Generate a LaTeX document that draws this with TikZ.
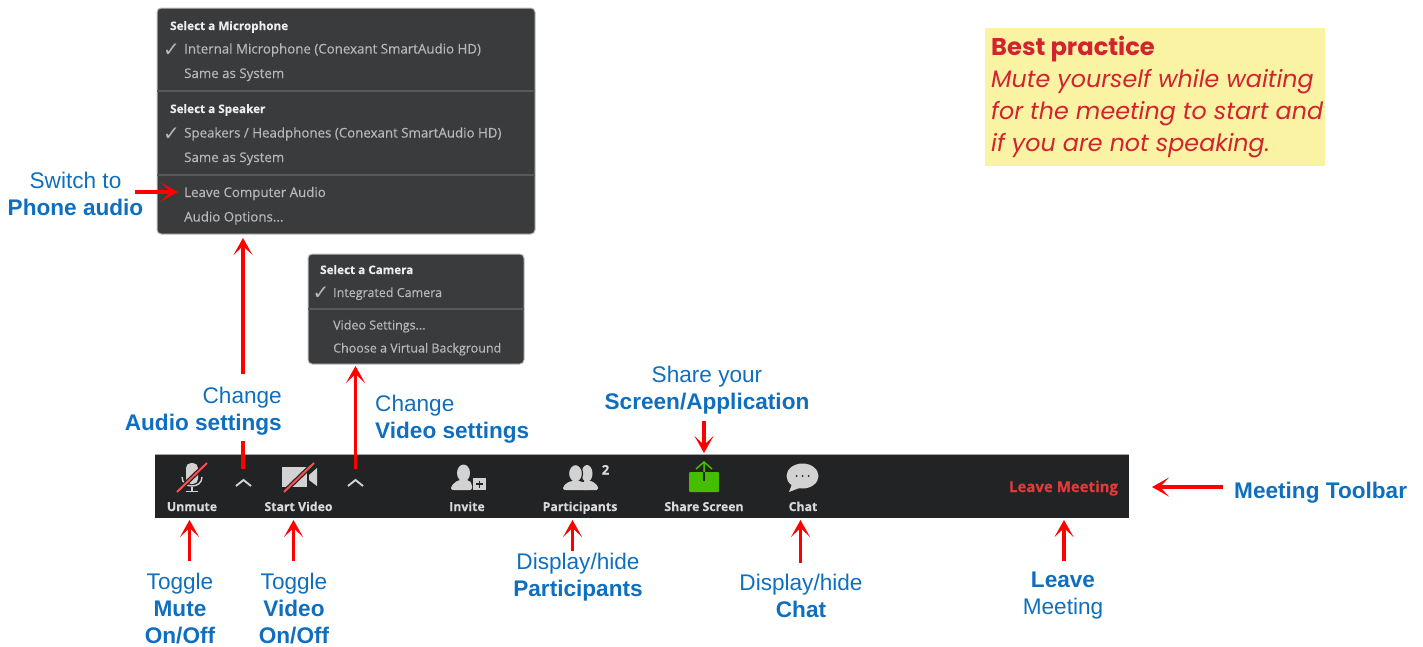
\documentclass[tikz,border=0pt]{standalone}
\usepackage{fontspec}
\usetikzlibrary{arrows.meta}
\setmainfont{Liberation Sans}
\newfontfamily\uifont[FakeBold=0.25]{Open Sans}
\newfontfamily\bpfont{Poppins}
\newfontfamily\chkfont{DejaVu Sans}
\definecolor{cblue}{HTML}{0F6FBE}
\definecolor{cred}{HTML}{FF0000}
\definecolor{menubg}{HTML}{3A3B3D}
\definecolor{menuline}{HTML}{57585A}
\definecolor{barbg}{HTML}{222325}
\definecolor{icon}{HTML}{D2D2D2}
\definecolor{bpbg}{HTML}{FAF3A4}
\definecolor{bpred}{HTML}{D2232E}
\definecolor{sharegreen}{HTML}{46BE00}
\definecolor{leavered}{HTML}{E23B3B}
\tikzset{
  x=1pt,y=-1pt,
  arr/.style={draw=cred,line width=3.4pt,-{Stealth[length=17pt,width=19pt,inset=9pt]}},
  plain/.style={draw=cred,line width=3.4pt},
  lab/.style={text=cblue,font=\fontsize{22.6}{27}\selectfont,align=center,inner sep=0pt},
  labl/.style={text=cblue,font=\fontsize{22.6}{27}\selectfont,align=left,inner sep=0pt},
  labr/.style={text=cblue,font=\fontsize{22.6}{27}\selectfont,align=right,inner sep=0pt},
  menu/.style={draw=black!25,line width=1pt,fill=menubg,rounded corners=4pt},
  mhead/.style={anchor=base west,inner sep=0pt,text=white!93!black,font=\uifont\bfseries\fontsize{11.7}{13}\selectfont},
  mitem/.style={anchor=base west,inner sep=0pt,text=white!72!black,font=\uifont\fontsize{13.3}{15}\selectfont},
  mitemb/.style={anchor=base west,inner sep=0pt,text=white!72!black,font=\uifont\fontsize{12.5}{15}\selectfont},
  mchk/.style={anchor=base west,inner sep=0pt,text=white!72!black,font=\chkfont\fontsize{20}{20}\selectfont},
  tb/.style={anchor=base,inner sep=0pt,text=white!85!black,font=\uifont\bfseries\fontsize{12.3}{14}\selectfont},
  bp/.style={anchor=base west,inner sep=0pt,text=bpred},
  slash/.style={draw=barbg,line width=4.5pt},
  slashr/.style={draw=red!70!white,line width=2pt},
  chev/.style={draw=icon,line width=1.9pt},
}
\begin{document}
\begin{tikzpicture}
\useasboundingbox (0,0) rectangle (1423,646);
% menus
\draw[menu] (157,8) rectangle (535,234);
\coordinate (m1bot) at (243,238);
\coordinate (m1left) at (178,192);
\draw[draw=menuline,line width=1.2pt] (157,91) -- (535,91) (157,175) -- (535,175);
\node[mhead] (m1a) at (170,30) {Select a Microphone};
\node[mchk] (m1ck1) at (163,56) {✓};
\node[mitem] (m1b) at (184,53.5) {Internal Microphone (Conexant SmartAudio HD)};
\node[mitem] (m1c) at (184,78) {Same as System};
\node[mhead] (m1d) at (170,113) {Select a Speaker};
\node[mchk] (m1ck2) at (163,140) {✓};
\node[mitem] (m1e) at (184,137.5) {Speakers / Headphones (Conexant SmartAudio HD)};
\node[mitem] (m1f) at (184,162) {Same as System};
\node[mitem] (m1g) at (184,197) {Leave Computer Audio};
\node[mitem] (m1h) at (184,221.5) {Audio Options...};
\draw[menu] (308,254) rectangle (524,364);
\draw[draw=menuline,line width=1.2pt] (308,309) -- (524,309);
\node[mhead] (m2a) at (320,274) {Select a Camera};
\node[mchk] (m2ck) at (312.5,299.5) {✓};
\node[mitemb] (m2b) at (333,297) {Integrated Camera};
\node[mitemb] (m2c) at (333,329.5) {Video Settings...};
\node[mitemb] (m2d) at (333,352.5) {Choose a Virtual Background};
% best practice
\fill[bpbg] (985,28) rectangle (1325,166);
\node[bp,font=\bpfont\bfseries\fontsize{24.2}{30}\selectfont] (bp1) at (991,55) {Best practice};
\node[bp,font=\bpfont\itshape\fontsize{23.8}{30}\selectfont] (bp2) at (991,87) {Mute yourself while waiting};
\node[bp,font=\bpfont\itshape\fontsize{23.8}{30}\selectfont] (bp3) at (991,119) {for the meeting to start and};
\node[bp,font=\bpfont\itshape\fontsize{23.8}{30}\selectfont] (bp4) at (991,151) {if you are not speaking.};
% toolbar
\fill[barbg] (155,454) rectangle (1129,518);
\draw[black!35,line width=.8pt] (155,454) -- (1129,454);
% mic
\fill[icon,rounded corners=5pt] (186,463) rectangle (198,484);
\draw[icon,line width=1.4pt] (182,477) .. controls (182,489) and (202,489) .. (202,477);
\draw[icon,line width=1.8pt] (192,487) -- (192,491) (186,491.5) -- (198,491.5);
\draw[slash] (177,492) -- (207,463);
\draw[slashr] (177,492) -- (207,463);
% chevrons
\draw[chev] (236,486) -- (243.5,480) -- (251,486);
\draw[chev] (348,486) -- (355.5,480) -- (363,486);
% camera
\fill[icon] (282,467) rectangle (307,487);
\fill[icon] (309,475) -- (317,468) -- (317,486) -- (309,480) -- cycle;
\draw[slash] (284,492) -- (314,463);
\draw[slashr] (284,492) -- (314,463);
% invite
\fill[icon] (463.5,473) circle[x radius=6.5,y radius=8.5];
\fill[icon,rounded corners=2pt] (451,490) -- (451,486) -- (458,480) -- (469,480) -- (472,484) -- (472,490) -- cycle;
\fill[icon] (473,478) rectangle (486,490);
\draw[barbg,line width=1.5pt] (479.5,480.5) -- (479.5,487.5) (476,484) -- (483,484);
% participants
\fill[icon] (587,473.5) circle[x radius=5.5,y radius=8.5];
\fill[icon,rounded corners=1.5pt] (583,490) -- (583,481) -- (592,481) -- (598,486) -- (598,490) -- cycle;
\draw[barbg,line width=1.2pt,fill=icon] (575.5,473.5) circle[x radius=7,y radius=9];
\fill[icon,rounded corners=2pt] (563,490) -- (563,486) -- (570,481) -- (581,481) -- (589,486) -- (589,490) -- cycle;
\node[anchor=base,inner sep=0pt,text=white!85!black,font=\uifont\bfseries\fontsize{13}{14}\selectfont] (partn) at (605.5,474.5) {2};
% share
\fill[sharegreen,rounded corners=1pt] (689,472) rectangle (719,492);
\draw[barbg,line width=1.2pt] (704,472) -- (704,481);
\draw[sharegreen,line width=1.5pt] (704,472) -- (704,463) (696,469) -- (704,462) -- (712,469);
% chat
\fill[icon] (802.5,476) circle[x radius=16,y radius=12.5];
\fill[icon] (792,484) -- (789,492) -- (802,487) -- cycle;
\fill[barbg] (796.5,476) circle[radius=1] (802.5,476) circle[radius=1] (808.5,476) circle[radius=1];
% toolbar labels
\node[tb] (t1) at (192,511) {Unmute};
\node[tb] (t2) at (298.5,511) {Start Video};
\node[tb] (t3) at (467,511) {Invite};
\node[tb] (t4) at (580,511) {Participants};
\node[tb] (t5) at (704,511) {Share Screen};
\node[tb] (t6) at (803,511) {Chat};
\node[anchor=base,inner sep=0pt,text=leavered,font=\uifont\bfseries\fontsize{15}{16}\selectfont] (t7) at (1063.5,492) {Leave Meeting};
% blue labels
\node[lab] (lphone) at (75.5,193.5) {Switch to\\\textbf{Phone audio}};
\node[labr,anchor=east] (laudio) at (282,411) {Change\\\textbf{Audio settings}};
\node[labl,anchor=west] (lvideo) at (375,419) {Change\\\textbf{Video settings}};
\node[lab] (lshare) at (707,390.5) {Share your\\\textbf{Screen/Application}};
\node[lab] (lmute) at (180,609) {Toggle\\\textbf{Mute}\\\textbf{On/Off}};
\node[lab] (lvid) at (294,609) {Toggle\\\textbf{Video}\\\textbf{On/Off}};
\node[lab] (lpart) at (578,577) {Display/hide\\\textbf{Participants}};
\node[lab] (lchat) at (801,595.5) {Display/hide\\\textbf{Chat}};
\node[lab] (lleave) at (1063,596) {\textbf{Leave}\\Meeting};
\node[labl,anchor=base west] (ltool) at (1234,498) {\textbf{Meeting Toolbar}};
% connectors
\coordinate (aA) at (243,374);
\coordinate (aB) at (243,441);
\coordinate (aC) at (243,469);
\coordinate (vA) at (355.5,469);
\coordinate (vB) at (355.5,366);
\coordinate (sA) at (704,421);
\coordinate (sB) at (704,453);
\coordinate (xA) at (1223,487);
\coordinate (xB) at (1152,487);
\coordinate (pA) at (135,192);
\coordinate (u1a) at (189.5,561); \coordinate (u1b) at (189.5,520);
\coordinate (u2a) at (293.5,561); \coordinate (u2b) at (293.5,520);
\coordinate (u3a) at (572.5,551); \coordinate (u3b) at (572.5,520);
\coordinate (u4a) at (800.5,563); \coordinate (u4b) at (800.5,520);
\coordinate (u5a) at (1064,561); \coordinate (u5b) at (1064,520);
\draw[arr] (pA) -- (m1left);
\draw[arr] (aA) -- (m1bot);
\draw[plain] (aB) -- (aC);
\draw[arr] (vA) -- (vB);
\draw[arr] (sA) -- (sB);
\draw[arr] (xA) -- (xB);
\draw[arr] (u1a) -- (u1b);
\draw[arr] (u2a) -- (u2b);
\draw[arr] (u3a) -- (u3b);
\draw[arr] (u4a) -- (u4b);
\draw[arr] (u5a) -- (u5b);
\end{tikzpicture}
\end{document}
